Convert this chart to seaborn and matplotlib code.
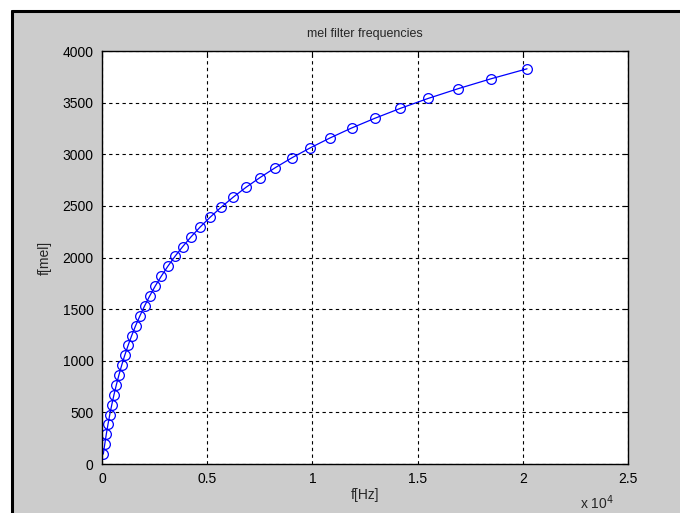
import numpy as np
import pandas as pd
import matplotlib
matplotlib.use("Agg")
import matplotlib.pyplot as plt
import seaborn as sns
from matplotlib.patches import Rectangle
from matplotlib.lines import Line2D

# mel filter centre frequencies
freq_hz = [62, 130, 203, 283, 370, 465, 568, 681, 803, 936,
           1081, 1239, 1411, 1598, 1802, 2024, 2265, 2528, 2814, 3125,
           3464, 3833, 4235, 4672, 5148, 5667, 6232, 6845, 7514, 8242,
           9035, 9897, 10837, 11859, 12972, 14183, 15502, 16937, 18501, 20202]
freq_mel = [96, 191, 287, 383, 479, 574, 670, 766, 861, 957,
            1053, 1148, 1244, 1340, 1435, 1531, 1627, 1723, 1818, 1914,
            2010, 2105, 2201, 2297, 2392, 2488, 2584, 2680, 2775, 2871,
            2967, 3062, 3158, 3254, 3349, 3445, 3541, 3636, 3732, 3828]

x_ticks = [0, 5000, 10000, 15000, 20000, 25000]
x_tick_labels = ["0", "0.5", "1", "1.5", "2", "2.5"]
y_ticks = [0, 500, 1000, 1500, 2000, 2500, 3000, 3500, 4000]

df = pd.DataFrame({"hz": freq_hz, "mel": freq_mel})

sns.set_style("white")
plt.rcParams["font.family"] = ["Liberation Sans", "DejaVu Sans"]

GRAY = "#cccccc"
fig = plt.figure(figsize=(6.8, 5.13), dpi=100, facecolor=GRAY)
ax = fig.add_axes([0.150, 0.0955, 0.7735, 0.805])
ax.set_facecolor("white")

sns.lineplot(data=df, x="hz", y="mel", ax=ax, sort=False, color="blue",
             linewidth=0.9, marker="o", markersize=7,
             markerfacecolor="none", markeredgecolor="blue",
             markeredgewidth=0.9)

ax.set_xlim(0, 25000)
ax.set_ylim(0, 4000)
ax.set_xticks(x_ticks)
ax.set_xticklabels(x_tick_labels)
ax.set_yticks(y_ticks)
ax.grid(True, color="black", linestyle=(0, (3, 3)), linewidth=0.8)
ax.tick_params(direction="in", length=4, width=0.8, colors="black",
               labelsize=10, top=True, right=True, pad=6)
for sp in ax.spines.values():
    sp.set_color("black")
    sp.set_linewidth(1.0)

ax.set_title("mel filter frequencies", fontsize=9, pad=10)
ax.set_xlabel("f[Hz]", fontsize=10, labelpad=1)
ax.set_ylabel("f[mel]", fontsize=10, labelpad=8)

fig.text(597 / 680, 1 - 503 / 513, "x 10$^{4}$", fontsize=10, ha="center",
         va="center")

# window frame: white strip with black border on top and left
fig.add_artist(Rectangle((0, 1 - 10 / 513), 1, 10 / 513, transform=fig.transFigure,
                         facecolor="white", edgecolor="none"))
fig.add_artist(Rectangle((0, 0), 11 / 680, 1, transform=fig.transFigure,
                         facecolor="white", edgecolor="none"))
fig.add_artist(Line2D([12 / 680, 1], [1 - 11 / 513, 1 - 11 / 513],
                      transform=fig.transFigure, color="black", linewidth=2.2))
fig.add_artist(Line2D([12 / 680, 12 / 680], [0, 1 - 11 / 513],
                      transform=fig.transFigure, color="black", linewidth=2.2))

fig.savefig("out.png", dpi=100, facecolor=GRAY)
